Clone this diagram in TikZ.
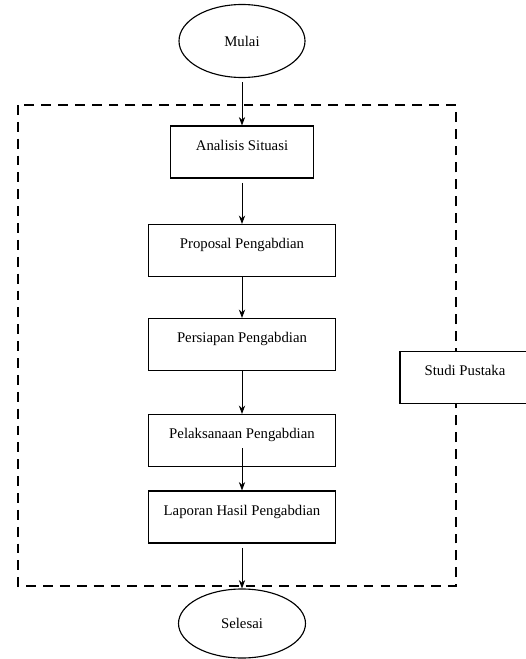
\documentclass[tikz,border=0pt]{standalone}
\usepackage{fontspec}
\setmainfont{Liberation Serif}
\usepackage{tikz}
\usetikzlibrary{shapes,arrows.meta}
\usetikzlibrary{calc}

\begin{document}
\begin{tikzpicture}[box_node/.style={rectangle,draw,line width=0.8pt,fill=white,minimum height=1.3cm,inner sep=0pt,text height=0.6cm,text depth=0.7cm,font=\fontsize{10.5}{12}\selectfont}, end_node/.style={ellipse,draw,line width=0.8pt,inner sep=0pt,font=\fontsize{10.5}{12}\selectfont}, >={Stealth[length=6pt,width=4.5pt]}]
				\useasboundingbox (0,0) rectangle (13.125,-16.475);
				\draw[dashed,line width=2pt,dash pattern=on 7pt off 5pt] (0.45,-2.625) rectangle (11.4,-14.65);
				\node[end_node, minimum width=3.15cm, minimum height=1.825cm](1) at (6.05,-1.025){Mulai};
				\node[box_node, minimum width=3.575cm](2) at (6.05,-3.8){Analisis Situasi};
				\node[box_node, minimum width=4.675cm](3) at (6.05,-6.2625){Proposal Pengabdian};
				\node[box_node, minimum width=4.675cm](4) at (6.05,-8.6125){Persiapan Pengabdian};
				\node[box_node, minimum width=4.675cm](5) at (6.05,-11.0125){Pelaksanaan Pengabdian};
				\node[box_node, minimum width=4.675cm](6) at (6.05,-12.925){Laporan Hasil Pengabdian};
				\node[end_node, minimum width=3.175cm, minimum height=1.725cm](7) at (6.05,-15.5875){Selesai};
				\node[box_node, minimum width=3.25cm](8) at (11.625,-9.4375){Studi Pustaka};
				\draw[->, line width=0.6pt, shorten <=3pt] (1) -- (2);
				\draw[->, line width=0.6pt, shorten <=3pt] (2) -- (3);
				\draw[->, line width=0.6pt] (3) -- (4);
				\draw[->, line width=0.6pt] (4) -- (5);
				\draw[->, line width=0.6pt] ($(5.south)+(0,0.475)$) -- (6);
				\draw[->, line width=0.6pt, shorten <=3pt] (6) -- (7);
			\end{tikzpicture}
\end{document}
